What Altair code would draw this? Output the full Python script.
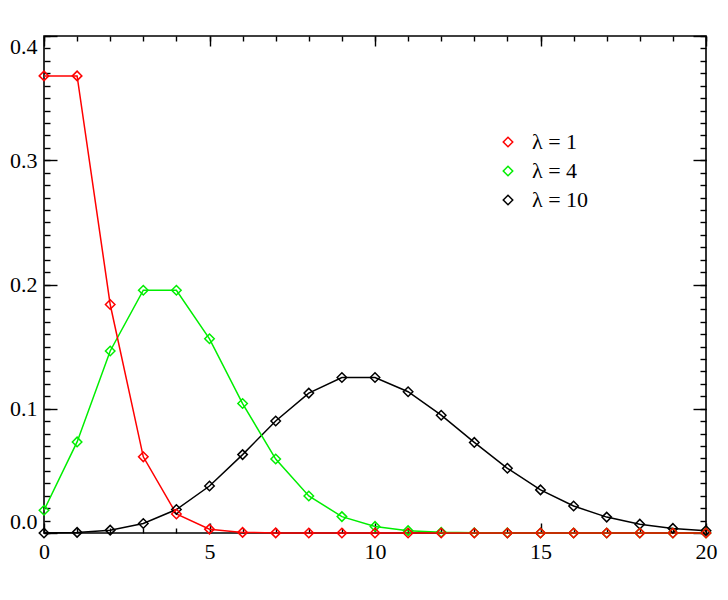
import altair as alt
import pandas as pd

k = list(range(21))
p_l1 = [0.3679, 0.3679, 0.1839, 0.0613, 0.0153, 0.0031, 0.0005, 0.0001, 0.0, 0.0, 0.0,
        0.0, 0.0, 0.0, 0.0, 0.0, 0.0, 0.0, 0.0, 0.0, 0.0]
p_l4 = [0.0183, 0.0733, 0.1465, 0.1954, 0.1954, 0.1563, 0.1042, 0.0595, 0.0298, 0.0132, 0.0053,
        0.0019, 0.0006, 0.0002, 0.0001, 0.0, 0.0, 0.0, 0.0, 0.0, 0.0]
p_l10 = [0.00005, 0.0005, 0.0023, 0.0076, 0.0189, 0.0378, 0.0631, 0.0901, 0.1126, 0.1251, 0.1251,
         0.1137, 0.0948, 0.0729, 0.0521, 0.0347, 0.0217, 0.0128, 0.0071, 0.0037, 0.0019]
labels = ["λ = 1", "λ = 4", "λ = 10"]
colors = ["#ff0000", "#00ee00", "#000000"]

x_major = [0, 5, 10, 15, 20]
x_minor = list(range(21))
y_major = [0.0, 0.1, 0.2, 0.3, 0.4]
y_minor = [round(i * 0.01, 2) for i in range(41)]

rows = []
for lab, vals in [(labels[2], p_l10), (labels[1], p_l4), (labels[0], p_l1)]:
    for kk, v in zip(k, vals):
        rows.append({"k": kk, "p": v, "series": lab})
df = pd.DataFrame(rows)

FONT = "Times New Roman"
xs = alt.Scale(domain=[0, 20], nice=False, zero=False)
ys = alt.Scale(domain=[0, 0.4], nice=False)

color = alt.Color(
    "series:N",
    scale=alt.Scale(domain=labels, range=colors),
    legend=alt.Legend(
        title=None, orient="none", legendX=453, legendY=95,
        symbolType="diamond", symbolSize=90, symbolStrokeWidth=1.5,
        labelFont=FONT, labelFontSize=22, labelColor="black",
        rowPadding=7, labelOffset=13, padding=0,
    ),
)


def tick_axis(orient, values, size):
    return alt.Axis(orient=orient, values=values, labels=False, domain=False, grid=False,
                    tickSize=size, offset=-size, tickColor="black", tickWidth=1.4, title=None)


lines = alt.Chart(df).mark_line(strokeWidth=1.5).encode(
    x=alt.X("k:Q", scale=xs, axis=alt.Axis(
        orient="bottom", values=x_major, ticks=False, domain=False, grid=False,
        labelFont=FONT, labelFontSize=22, labelColor="black", labelPadding=8,
        labelFlush=False, title=None)),
    y=alt.Y("p:Q", scale=ys, axis=alt.Axis(
        orient="left", values=y_major, format=".1f", ticks=False, domain=False, grid=False,
        labelFont=FONT, labelFontSize=22, labelColor="black", labelPadding=7,
        labelFlush=True, title=None)),
    color=color,
    detail="series:N",
)

points = alt.Chart(df).mark_point(shape="diamond", filled=False, size=90, strokeWidth=1.5, opacity=1).encode(
    x=alt.X("k:Q", scale=xs, axis=tick_axis("bottom", x_major, 10)),
    y=alt.Y("p:Q", scale=ys, axis=tick_axis("left", y_major, 13)),
    color=color,
)


def ghost(xaxis, yaxis):
    return alt.Chart(df).mark_point(opacity=0).encode(
        x=alt.X("k:Q", scale=xs, axis=xaxis),
        y=alt.Y("p:Q", scale=ys, axis=yaxis),
    )


g1 = ghost(tick_axis("bottom", x_minor, 5), tick_axis("left", y_minor, 6))
g2 = ghost(tick_axis("top", x_major, 10), tick_axis("right", y_major, 13))
g3 = ghost(tick_axis("top", x_minor, 5), tick_axis("right", y_minor, 6))

chart = alt.layer(lines, points, g1, g2, g3).resolve_axis(
    x="independent", y="independent"
).properties(
    width=662, height=497,
    autosize=alt.AutoSizeParams(type="none"),
    padding={"left": 36, "top": 28, "right": 14, "bottom": 40},
).configure(font=FONT).configure_view(stroke="black", strokeWidth=1.6)

chart.save("out.html", embed_options={"renderer": "svg", "actions": False})
